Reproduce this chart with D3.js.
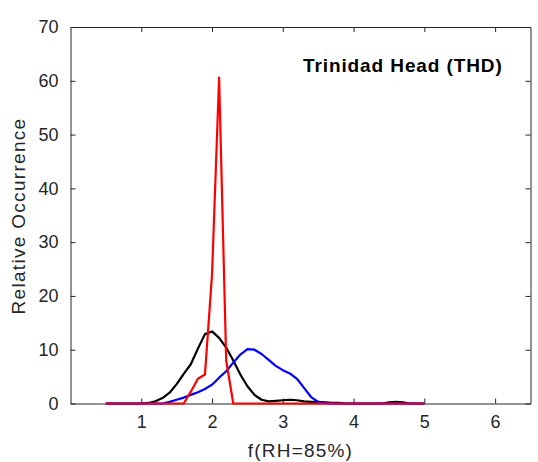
<!DOCTYPE html>
<html>
<head>
<meta charset="utf-8">
<script src="https://cdn.jsdelivr.net/npm/d3@7"></script>
<style>
  body { margin: 0; background: #fff; }
  svg { display: block; font-family: "Liberation Sans", Arial, sans-serif; }
</style>
</head>
<body>
<div id="chart"></div>
<script>
// bin centres of f(RH=85%)
var bins = [0.5, 0.6, 0.7, 0.8, 0.9, 1.0, 1.1, 1.2, 1.3, 1.4,
            1.5, 1.6, 1.7, 1.8, 1.9, 2.0, 2.1, 2.2, 2.3, 2.4,
            2.5, 2.6, 2.7, 2.8, 2.9, 3.0, 3.1, 3.2, 3.3, 3.4,
            3.5, 3.6, 3.7, 3.8, 3.9, 4.0, 4.1, 4.2, 4.3, 4.4,
            4.5, 4.6, 4.7, 4.8, 4.9, 5.0];

var blackSeries = [0, 0, 0, 0, 0, 0, 0.1, 0.4, 1.0, 2.0,
                   3.6, 5.5, 7.3, 10.2, 12.9, 13.4, 12.2, 10.4, 8.0, 5.4,
                   3.2, 1.6, 0.7, 0.4, 0.5, 0.6, 0.7, 0.6, 0.4, 0.3,
                   0.3, 0.2, 0.1, 0.1, 0, 0, 0, 0, 0, 0,
                   0.2, 0.3, 0.2, 0, 0, 0];

var blueSeries = [0, 0, 0, 0, 0, 0, 0, 0, 0, 0.3,
                  0.7, 1.1, 1.6, 2.1, 2.7, 3.5, 4.8, 6.0, 7.6, 9.1,
                  10.1, 10.0, 9.2, 8.1, 7.0, 6.2, 5.6, 4.6, 2.9, 1.2,
                  0.3, 0.1, 0, 0, 0, 0, 0, 0, 0, 0,
                  0, 0, 0, 0, 0, 0];

var redSeries = [0, 0, 0, 0, 0, 0, 0, 0, 0, 0,
                 0, 0, 2.2, 4.6, 5.4, 24, 60.6, 8, 0, 0,
                 0, 0, 0, 0, 0, 0, 0, 0, 0, 0,
                 0, 0, 0, 0, 0, 0, 0, 0, 0, 0,
                 0, 0, 0, 0, 0, 0];

var xTicks = [1, 2, 3, 4, 5, 6];
var yTicks = [0, 10, 20, 30, 40, 50, 60, 70];

var width = 538, height = 462;
var margin = {top: 27, right: 7.5, bottom: 58.5, left: 70.5};
var plotW = width - margin.left - margin.right,
    plotH = height - margin.top - margin.bottom;
var axisColor = '#262626';

var svg = d3.select('#chart').append('svg')
    .attr('width', width)
    .attr('height', height);

var x = d3.scaleLinear().domain([0, 6.5]).range([0, plotW]);
var y = d3.scaleLinear().domain([0, 70]).range([plotH, 0]);

var g = svg.append('g')
    .attr('transform', 'translate(' + margin.left + ',' + margin.top + ')');

// axes (MATLAB-style box with inward ticks)
function styleAxis(sel, hideText) {
  sel.select('.domain').attr('stroke', axisColor).attr('stroke-width', 1);
  sel.selectAll('.tick line').attr('stroke', axisColor);
  sel.selectAll('.tick text')
    .attr('fill', axisColor)
    .style('font-size', '18px');
  if (hideText) sel.selectAll('.tick text').remove();
}

var bottomAxis = g.append('g')
    .attr('transform', 'translate(0,' + plotH + ')')
    .call(d3.axisBottom(x).tickValues(xTicks).tickFormat(d3.format('d'))
      .tickSizeInner(-5).tickSizeOuter(0).tickPadding(12));
styleAxis(bottomAxis, false);

var topAxis = g.append('g')
    .call(d3.axisTop(x).tickValues(xTicks).tickSizeInner(-5).tickSizeOuter(0));
styleAxis(topAxis, true);

var leftAxis = g.append('g')
    .call(d3.axisLeft(y).tickValues(yTicks)
      .tickSizeInner(-5).tickSizeOuter(0).tickPadding(12));
styleAxis(leftAxis, false);

var rightAxis = g.append('g')
    .attr('transform', 'translate(' + plotW + ',0)')
    .call(d3.axisRight(y).tickValues(yTicks).tickSizeInner(-5).tickSizeOuter(0));
styleAxis(rightAxis, true);

// curves
var line = d3.line()
    .x(function (d, i) { return x(bins[i]); })
    .y(function (d) { return y(d); });

[[blackSeries, '#000000'], [blueSeries, '#0000ff'], [redSeries, '#ff0000']]
  .forEach(function (s) {
    g.append('path')
      .datum(s[0])
      .attr('d', line)
      .attr('fill', 'none')
      .attr('stroke', s[1])
      .attr('stroke-width', 2.2)
      .attr('stroke-linejoin', 'round');
  });

// labels
svg.append('text')
    .attr('x', margin.left + plotW / 2)
    .attr('y', 457)
    .attr('text-anchor', 'middle')
    .attr('fill', axisColor)
    .style('font-size', '19px')
    .style('letter-spacing', '1.2px')
    .text('f(RH=85%)');

svg.append('text')
    .attr('transform', 'translate(25,216) rotate(-90)')
    .attr('text-anchor', 'middle')
    .attr('fill', axisColor)
    .style('font-size', '19px')
    .style('letter-spacing', '1.3px')
    .text('Relative Occurrence');

svg.append('text')
    .attr('x', 303)
    .attr('y', 72)
    .attr('fill', '#000')
    .style('font-size', '19px')
    .style('font-weight', 'bold')
    .style('letter-spacing', '0.9px')
    .text('Trinidad Head (THD)');
</script>
</body>
</html>
